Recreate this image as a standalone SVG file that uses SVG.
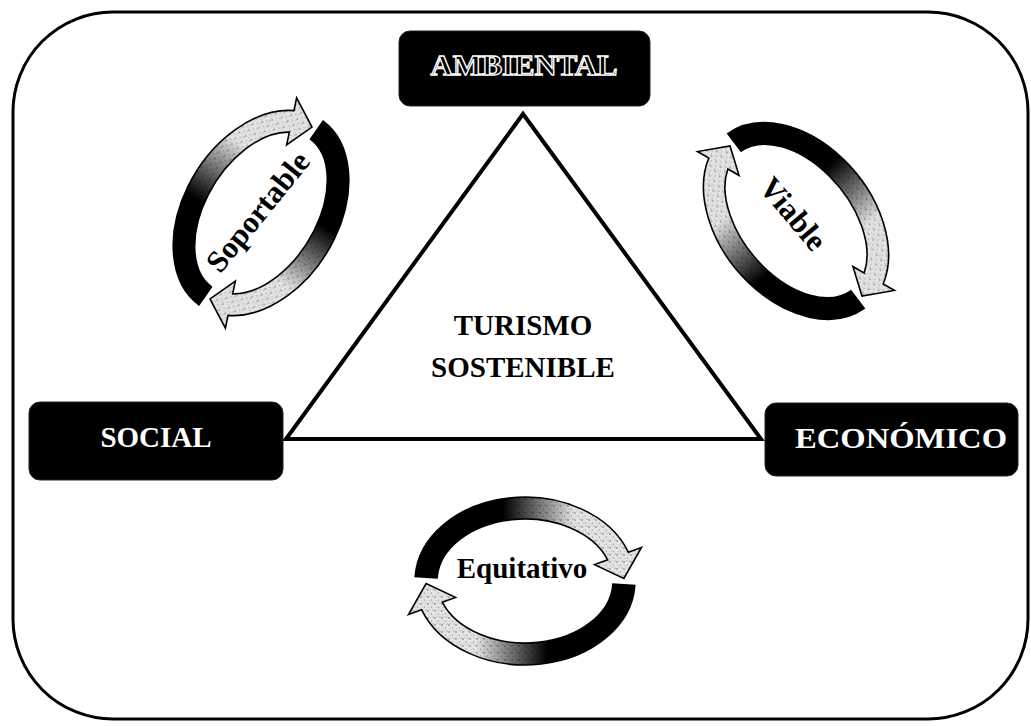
<svg xmlns="http://www.w3.org/2000/svg" xmlns:xlink="http://www.w3.org/1999/xlink" width="1031" height="726" viewBox="0 0 1031 726">
<style>
  .lbl { font-family: "Liberation Serif", "Times New Roman", serif; font-weight: bold; font-size: 29px; text-anchor: middle; }
  .box { fill: #000; stroke: #222; stroke-width: 1; }
  .boxtxt { fill: #fff; }
  .arrow { stroke: #000; stroke-width: 1.6; stroke-linejoin: miter; }
  .word { fill: #000; }
</style>
<defs>
  <pattern id="stip" width="7" height="7" patternUnits="userSpaceOnUse">
    <rect width="7" height="7" fill="#e4e4e4"/>
    <circle cx="1" cy="2" r="0.7" fill="#555"/>
    <circle cx="4.5" cy="5" r="0.6" fill="#777"/>
    <circle cx="6" cy="1" r="0.5" fill="#666"/>
    <circle cx="3" cy="0.5" r="0.4" fill="#999"/>
    <circle cx="2" cy="5.5" r="0.4" fill="#888"/>
  </pattern>
  <linearGradient id="g1" gradientUnits="userSpaceOnUse" x1="-111" y1="0" x2="111" y2="0">
    <stop offset="0" stop-color="#000" stop-opacity="1"/>
    <stop offset="0.4" stop-color="#000" stop-opacity="1"/>
    <stop offset="0.72" stop-color="#000" stop-opacity="0"/>
    <stop offset="1" stop-color="#000" stop-opacity="0"/>
  </linearGradient>
  <linearGradient id="g2" gradientUnits="userSpaceOnUse" x1="111" y1="0" x2="-111" y2="0">
    <stop offset="0" stop-color="#000" stop-opacity="1"/>
    <stop offset="0.4" stop-color="#000" stop-opacity="1"/>
    <stop offset="0.72" stop-color="#000" stop-opacity="0"/>
    <stop offset="1" stop-color="#000" stop-opacity="0"/>
  </linearGradient>
  <path id="arrE1" d="M-109.8,-4.4 A110,84 0 0 1 103.4,-28.7 L116.5,-33.5 L98.9,-2.5 L69.5,-16.4 L82.7,-21.2 A88,62 0 0 0 -87.9,-3.2 Z"/>
  <path id="arrE2" d="M109.8,4.4 A110,84 0 0 1 -103.4,28.7 L-116.5,33.5 L-98.9,2.5 L-69.5,16.4 L-82.7,21.2 A88,62 0 0 0 87.9,3.2 Z"/>
  <path id="arrS1" d="M-110.8,-4.0 A111,77 0 0 1 104.3,-26.3 L116.5,-30.8 L99.9,-2.3 L71.4,-14.4 L83.6,-18.8 A89,55 0 0 0 -88.9,-2.9 Z"/>
  <path id="arrS2" d="M110.8,4.0 A111,77 0 0 1 -104.3,26.3 L-116.5,30.8 L-99.9,2.3 L-71.4,14.4 L-83.6,18.8 A89,55 0 0 0 88.9,2.9 Z"/>
</defs>

<rect id="frame" x="13" y="12" width="1015" height="707" rx="100" ry="100" fill="none" stroke="#000" stroke-width="3"/>

<g id="connectors">
  <polygon points="523,114 286,439 761,439" fill="none" stroke="#000" stroke-width="4"/>
</g>

<g id="node-ambiental">
  <rect class="box" x="399" y="31" width="251" height="75" rx="11"/>
  <text class="lbl" x="524" y="75" fill="#000" stroke="#fff" stroke-width="1.3" textLength="187" lengthAdjust="spacingAndGlyphs">AMBIENTAL</text>
</g>

<g id="node-social">
  <rect class="box" x="29" y="402" width="254" height="78" rx="11"/>
  <text class="lbl boxtxt" x="156" y="447">SOCIAL</text>
</g>

<g id="node-economico">
  <rect class="box" x="765" y="403" width="253" height="73" rx="11"/>
  <text class="lbl boxtxt" x="901" y="448" textLength="212" lengthAdjust="spacingAndGlyphs">ECONÓMICO</text>
</g>

<g id="node-turismo">
  <text class="lbl word" x="523" y="335">TURISMO</text>
  <text class="lbl word" x="523" y="377">SOSTENIBLE</text>
</g>

<g id="node-soportable">
  <g transform="translate(261,213) rotate(-58)">
    <use xlink:href="#arrS1" href="#arrS1" fill="url(#stip)" class="arrow"/>
    <use xlink:href="#arrS1" href="#arrS1" fill="url(#g1)"/>
    <use xlink:href="#arrS2" href="#arrS2" fill="url(#stip)" class="arrow"/>
    <use xlink:href="#arrS2" href="#arrS2" fill="url(#g2)"/>
  </g>
  <text class="lbl word" style="font-size:31px" transform="translate(258,212) rotate(-51)" x="0" y="10">Soportable</text>
</g>

<g id="node-viable">
  <g transform="translate(796,221) rotate(50)">
    <use xlink:href="#arrS1" href="#arrS1" fill="url(#stip)" class="arrow"/>
    <use xlink:href="#arrS1" href="#arrS1" fill="url(#g1)"/>
    <use xlink:href="#arrS2" href="#arrS2" fill="url(#stip)" class="arrow"/>
    <use xlink:href="#arrS2" href="#arrS2" fill="url(#g2)"/>
  </g>
  <text class="lbl word" style="font-size:31px" transform="translate(793,214) rotate(50)" x="0" y="10">Viable</text>
</g>

<g id="node-equitativo">
  <g transform="translate(525,581)">
    <use xlink:href="#arrE1" href="#arrE1" fill="url(#stip)" class="arrow"/>
    <use xlink:href="#arrE1" href="#arrE1" fill="url(#g1)"/>
    <use xlink:href="#arrE2" href="#arrE2" fill="url(#stip)" class="arrow"/>
    <use xlink:href="#arrE2" href="#arrE2" fill="url(#g2)"/>
  </g>
  <text class="lbl word" x="522" y="578">Equitativo</text>
</g>
</svg>
